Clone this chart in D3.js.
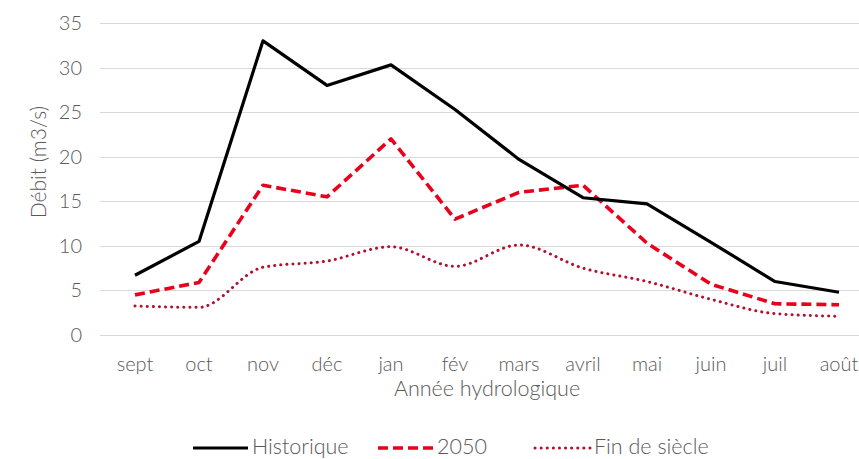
<!DOCTYPE html>
<html>
<head>
<meta charset="utf-8">
<script src="https://cdn.jsdelivr.net/npm/d3@7"></script>
<style>
body{margin:0;background:#fff;}
text{font-family:Lato,"Open Sans",sans-serif;font-weight:300;fill:#595959;}
</style>
</head>
<body>
<div id="chart-area"></div>
<script>
// data
let months=["sept","oct","nov","déc","jan","fév","mars","avril","mai","juin","juil","août"];
let historique=[6.7,10.5,33.0,28.0,30.3,25.3,19.7,15.4,14.7,10.4,6.0,4.8];
let proj2050=[4.5,5.9,16.8,15.5,22.0,13.0,16.0,16.8,10.3,5.7,3.5,3.4];
let finSiecle=[3.25,3.1,7.6,8.3,9.9,7.7,10.1,7.5,6.0,4.0,2.4,2.1];
let yTicks=[0,5,10,15,20,25,30,35];

let W=859,H=459;

let svg=d3.select("#chart-area").append('svg')
	.attr('width',W)
	.attr('height',H);

//---------SCALES--------------
let x=d3.scaleBand()
	.domain(months)
	.range([103,871]);

let y=d3.scaleLinear()
	.domain([0,35])
	.range([335,23]);

//---------GRID + Y AXIS--------
let grid=svg.append('g');
yTicks.forEach(function(t){
	grid.append('line')
		.attr('x1',100).attr('x2',W)
		.attr('y1',Math.round(y(t))+0.5).attr('y2',Math.round(y(t))+0.5)
		.attr('stroke','#d9d9d9')
		.attr('stroke-width',1);
	grid.append('text')
		.attr('x',82)
		.attr('y',y(t)+7)
		.attr('text-anchor','end')
		.attr('font-size','20px')
		.text(t);
});

//---------X LABELS------------
months.forEach(function(m){
	svg.append('text')
		.attr('x',x(m)+x.bandwidth()/2)
		.attr('y',371)
		.attr('text-anchor','middle')
		.attr('font-size','20px')
		.text(m);
});

svg.append('text')
	.attr('x',487)
	.attr('y',396)
	.attr('text-anchor','middle')
	.attr('font-size','21.5px')
	.text('Année hydrologique');

svg.append('text')
	.attr('transform','rotate(-90)')
	.attr('x',-162)
	.attr('y',46)
	.attr('text-anchor','middle')
	.attr('font-size','21px')
	.text('Débit (m3/s)');

//---------LINES---------------
let series=[
	{name:'Historique',values:historique,color:'#000000',dash:null,width:3.2,curve:d3.curveLinear,cap:'butt'},
	{name:'2050',values:proj2050,color:'#e8001c',dash:'10,5',width:3.6,curve:d3.curveLinear,cap:'butt'},
	{name:'Fin de siècle',values:finSiecle,color:'#b3102e',dash:'0.1,6',width:3,curve:d3.curveMonotoneX,cap:'round'}
];

series.slice().reverse().forEach(function(s){
	let line=d3.line()
		.x((d,i)=>x(months[i])+x.bandwidth()/2)
		.y(d=>y(d))
		.curve(s.curve);
	svg.append('path')
		.datum(s.values)
		.attr('d',line)
		.attr('fill','none')
		.attr('stroke',s.color)
		.attr('stroke-width',s.width)
		.attr('stroke-linejoin','round')
		.attr('stroke-linecap',s.cap)
		.attr('stroke-dasharray',s.dash);
});

//--------LEGEND--------------
let legendX=[193,378,535];
series.forEach(function(s,i){
	let row=svg.append('g')
		.attr('transform','translate('+legendX[i]+',448)');
	row.append('line')
		.attr('x1',0).attr('x2',55)
		.attr('y1',0).attr('y2',0)
		.attr('stroke',s.color)
		.attr('stroke-width',s.width)
		.attr('stroke-linecap',s.cap)
		.attr('stroke-dasharray',s.dash);
	row.append('text')
		.attr('x',59)
		.attr('y',6)
		.attr('font-size','21.5px')
		.text(s.name);
});
</script>
</body>
</html>
